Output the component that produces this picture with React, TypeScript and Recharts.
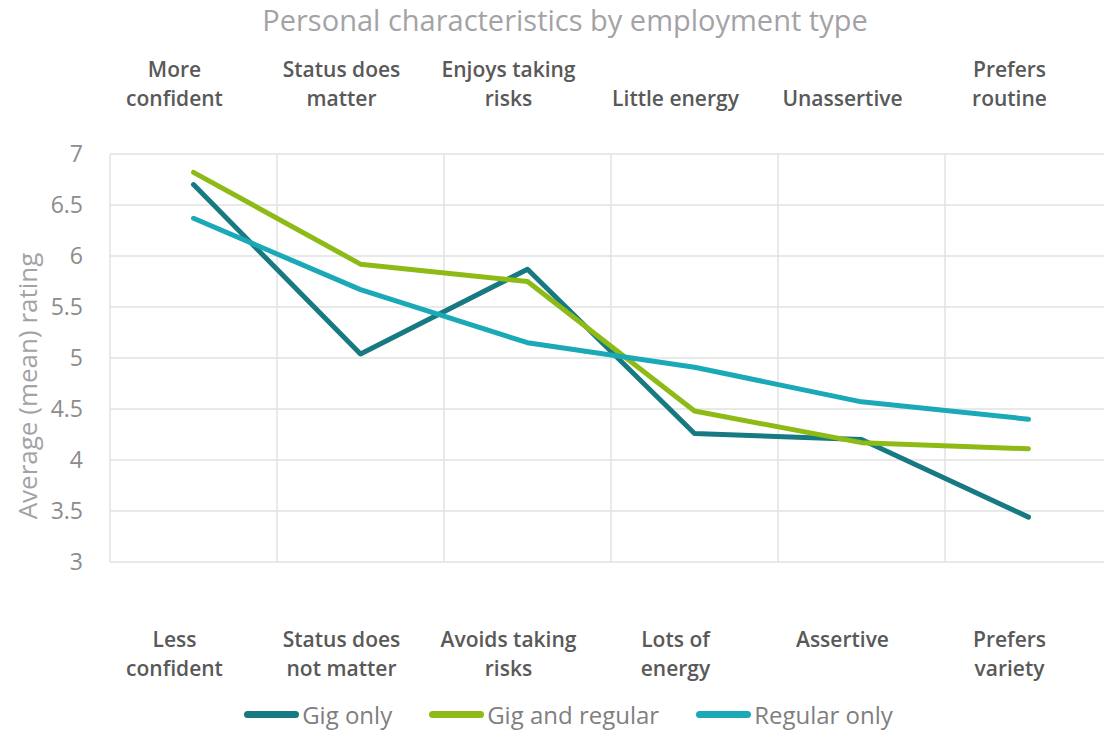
import React from "react"
import { LineChart, Line, XAxis, YAxis, CartesianGrid, Legend } from "recharts"

const topLabels = ["More\nconfident", "Status does\nmatter", "Enjoys taking\nrisks", "Little energy", "Unassertive", "Prefers\nroutine"]
const bottomLabels = ["Less\nconfident", "Status does\nnot matter", "Avoids taking\nrisks", "Lots of\nenergy", "Assertive", "Prefers\nvariety"]
const gigOnly = [6.7, 5.04, 5.87, 4.26, 4.2, 3.44]
const gigAndRegular = [6.82, 5.92, 5.75, 4.48, 4.17, 4.11]
const regularOnly = [6.37, 5.67, 5.15, 4.91, 4.57, 4.4]
const yTicks = [3, 3.5, 4, 4.5, 5, 5.5, 6, 6.5, 7]

const series = [
  { key: "gig", name: "Gig only", color: "#177a82", values: gigOnly },
  { key: "both", name: "Gig and regular", color: "#8dba15", values: gigAndRegular },
  { key: "regular", name: "Regular only", color: "#1ba9b8", values: regularOnly },
]

const data = bottomLabels.map((b, i) => ({
  bottom: b,
  top: topLabels[i],
  gig: gigOnly[i],
  both: gigAndRegular[i],
  regular: regularOnly[i],
}))

const FONT = "'Open Sans', sans-serif"

const TopTick = (props: any) => {
  const { x, y, payload } = props
  const lines: string[] = payload.value.split("\n")
  const last = y - 40
  return (
    <text x={x} textAnchor="middle" fill="#595959" fontSize={21} fontWeight={600} fontFamily={FONT}>
      {lines.map((l, i) => (
        <tspan key={i} x={x - 19} y={last - (lines.length - 1 - i) * 29}>{l}</tspan>
      ))}
    </text>
  )
}

const BottomTick = (props: any) => {
  const { x, y, payload } = props
  const lines: string[] = payload.value.split("\n")
  const first = y + 77
  return (
    <text x={x} textAnchor="middle" fill="#595959" fontSize={21} fontWeight={600} fontFamily={FONT}>
      {lines.map((l, i) => (
        <tspan key={i} x={x - 19} y={first + i * 29}>{l}</tspan>
      ))}
    </text>
  )
}

const YLabel = (props: any) => {
  const { viewBox } = props
  const cx = viewBox.x + 27
  const cy = viewBox.y + viewBox.height / 2 + 28
  return (
    <text x={cx} y={cy} transform={`rotate(-90, ${cx}, ${cy})`} textAnchor="middle" dominantBaseline="central" fill="#a3a3a6" fontSize={26} fontFamily={FONT}>
      Average (mean) rating
    </text>
  )
}

// vertical grid lines sit on the category boundaries, not the centres
const boundaryLines = ({ offset }: any) => {
  const step = offset.width / data.length
  return data.map((_d, i) => offset.left + step * i).concat(offset.left + offset.width)
}

const LegendContent = () => (
  <div style={{ height: 49, display: "flex", justifyContent: "center", alignItems: "center", paddingTop: 16, boxSizing: "border-box", paddingLeft: 62, fontFamily: FONT }}>
    {series.map((s) => (
      <div key={s.key} style={{ display: "flex", alignItems: "center", marginRight: 37 }}>
        <div style={{ width: 55, height: 7, borderRadius: 4, background: s.color, marginRight: 3 }} />
        <span style={{ fontSize: 24, color: "#7f7f7f", lineHeight: "30px" }}>{s.name}</span>
      </div>
    ))}
  </div>
)

export default function App() {
  return (
    <div style={{ position: "absolute", left: 0, top: 0, width: 1104, height: 731, overflow: "hidden", background: "#fff" }}>
      <div style={{ position: "absolute", left: 0, width: 1130, top: 0, textAlign: "center", fontFamily: FONT, fontSize: 29, color: "#a3a3a6" }}>
        Personal characteristics by employment type
      </div>
      <LineChart width={1120} height={731} data={data} margin={{ top: 84, right: 8, bottom: 0, left: 0 }}>
        <CartesianGrid stroke="#e2e2e2" strokeWidth={1.5} verticalCoordinatesGenerator={boundaryLines} />
        <XAxis xAxisId="top" orientation="top" dataKey="top" scale="band" height={70} tickLine={false} axisLine={false} tick={<TopTick />} interval={0} />
        <XAxis dataKey="bottom" scale="band" height={120} tickLine={false} axisLine={false} tick={<BottomTick />} interval={0} />
        <YAxis
          domain={[3, 7]}
          ticks={yTicks}
          width={110}
          tickLine={false}
          axisLine={false}
          tickMargin={21}
          tick={{ fill: "#8c8c8c", fontSize: 23, fontFamily: FONT }}
          label={<YLabel />}
        />
        <Legend verticalAlign="bottom" content={<LegendContent />} />
        {series.map((s) => (
          <Line
            key={s.key}
            dataKey={s.key}
            name={s.name}
            stroke={s.color}
            strokeWidth={5}
            strokeLinecap="round"
            strokeLinejoin="round"
            dot={false}
            activeDot={false}
            isAnimationActive={false}
          />
        ))}
      </LineChart>
    </div>
  )
}
